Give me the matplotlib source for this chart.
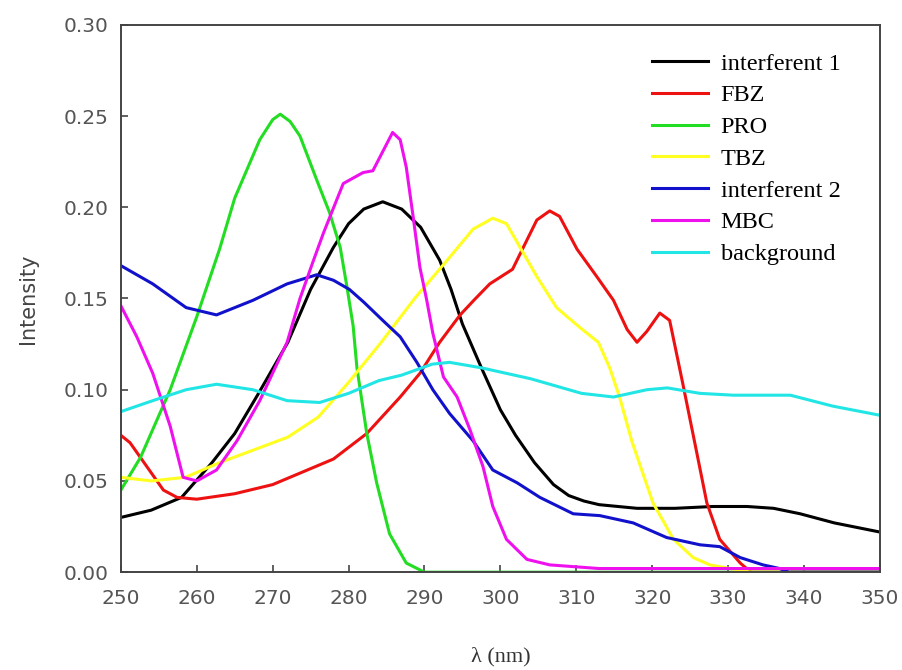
import matplotlib.pyplot as plt
import numpy as np

# values
i1_x = [250, 254, 258, 262, 265, 268, 272, 275, 278, 280, 282, 284.5, 287, 289.5, 292, 293.5, 295,
        297.5, 300, 302, 304.5, 307, 309, 311, 313, 318, 323, 328, 332.5, 336, 339.5, 344, 350]
i1_y = [0.030, 0.034, 0.041, 0.060, 0.076, 0.097, 0.126, 0.155, 0.178, 0.191, 0.199, 0.203, 0.199,
        0.189, 0.171, 0.155, 0.136, 0.112, 0.089, 0.075, 0.060, 0.048, 0.042, 0.039, 0.037, 0.035,
        0.035, 0.036, 0.036, 0.035, 0.032, 0.027, 0.022]

fbz_x = [250, 251.2, 253.4, 255.6, 257.4, 260, 265, 270, 274, 278, 282.4, 286.8, 289.4, 292, 294.7,
         296.5, 298.6, 301.6, 302.9, 304.8, 306.5, 307.8, 310.1, 312.7, 314.9, 316.7, 318, 319.3,
         321, 322.3, 324, 325.8, 327.2, 328.9, 331.6, 333, 350]
fbz_y = [0.075, 0.071, 0.058, 0.045, 0.041, 0.040, 0.043, 0.048, 0.055, 0.062, 0.076, 0.096, 0.109,
         0.126, 0.141, 0.149, 0.158, 0.166, 0.177, 0.193, 0.198, 0.195, 0.177, 0.162, 0.149, 0.133,
         0.126, 0.132, 0.142, 0.138, 0.104, 0.067, 0.038, 0.018, 0.005, 0.0, 0.0]

pro_x = [250, 252.6, 256.5, 260, 263, 265, 268.3, 270, 271, 272.3, 273.6, 275.8, 277.5, 278.9,
         279.8, 280.6, 281.1, 282.4, 283.7, 285.4, 287.6, 290, 350]
pro_y = [0.045, 0.063, 0.100, 0.140, 0.177, 0.205, 0.237, 0.248, 0.251, 0.247, 0.239, 0.215, 0.197,
         0.178, 0.156, 0.135, 0.112, 0.076, 0.049, 0.021, 0.005, 0.0, 0.0]

tbz_x = [250, 254, 258.5, 263, 267.5, 272, 276, 280, 284.3, 288.7, 293, 296.4, 299, 300.8, 302.6,
         304.8, 307.4, 310.5, 312.9, 314.4, 315.7, 317.3, 320.1, 322.8, 325.4, 327.6, 333, 350]
tbz_y = [0.052, 0.050, 0.052, 0.060, 0.067, 0.074, 0.085, 0.104, 0.126, 0.150, 0.171, 0.188, 0.194,
         0.191, 0.178, 0.162, 0.145, 0.134, 0.126, 0.112, 0.096, 0.072, 0.038, 0.018, 0.008, 0.004,
         0.0, 0.0]

i2_x = [250, 254.2, 258.6, 262.6, 267.4, 271.9, 275.8, 278, 280.1, 282, 284.5, 286.8, 289, 291.1,
        293.3, 296.4, 299, 302.2, 305.2, 309.6, 313.1, 317.5, 321.9, 326.3, 328.9, 331.6, 334.6,
        336.8, 338, 350]
i2_y = [0.168, 0.158, 0.145, 0.141, 0.149, 0.158, 0.163, 0.160, 0.155, 0.148, 0.138, 0.129, 0.115,
        0.100, 0.087, 0.072, 0.056, 0.049, 0.041, 0.032, 0.031, 0.027, 0.019, 0.015, 0.014, 0.008,
        0.004, 0.002, 0.0, 0.0]

mbc_x = [250, 252.1, 254.2, 256.5, 258.2, 260, 262.6, 265.3, 268.3, 271.9, 273.6, 275.3, 276.7,
         279.3, 281.9, 283.2, 285.8, 286.8, 287.6, 288.5, 289.4, 290.3, 291.1, 292.5, 294.3, 296,
         297.7, 299, 300.8, 303.5, 306.5, 313, 350]
mbc_y = [0.146, 0.129, 0.109, 0.080, 0.052, 0.050, 0.056, 0.072, 0.094, 0.126, 0.150, 0.170, 0.186,
         0.213, 0.219, 0.220, 0.241, 0.237, 0.222, 0.195, 0.167, 0.149, 0.131, 0.107, 0.096, 0.078,
         0.058, 0.036, 0.018, 0.007, 0.004, 0.002, 0.002]

bg_x = [250, 254.2, 258.6, 262.6, 267.4, 271.9, 276.2, 280, 284, 287, 291, 293.3, 297.5, 304, 310.7,
        314.9, 319.3, 322, 326.3, 330.7, 338.2, 343.8, 350]
bg_y = [0.088, 0.094, 0.100, 0.103, 0.100, 0.094, 0.093, 0.098, 0.105, 0.108, 0.114, 0.115, 0.112,
        0.106, 0.098, 0.096, 0.100, 0.101, 0.098, 0.097, 0.097, 0.091, 0.086]

labels = ['interferent 1', 'FBZ', 'PRO', 'TBZ', 'interferent 2', 'MBC', 'background']
colors = ['#000000', '#ee1111', '#22dd22', '#ffff22', '#1111cc', '#ee11ee', '#22e5e5']
series = [(i1_x, i1_y), (fbz_x, fbz_y), (pro_x, pro_y), (tbz_x, tbz_y),
          (i2_x, i2_y), (mbc_x, mbc_y), (bg_x, bg_y)]

fig = plt.figure(figsize=(9.02, 6.70), dpi=100)
ax = fig.add_axes([0.134, 0.146, 0.8415, 0.817])

for (x, y), lab, c in zip(series, labels, colors):
    ax.plot(x, y, color=c, lw=2.2, label=lab, solid_joinstyle='round')

ax.set_xlim(250, 350)
ax.set_ylim(0, 0.30)
ax.set_xticks(np.arange(250, 351, 10))
ax.set_yticks(np.arange(0, 0.301, 0.05))
ax.set_yticklabels(['{:.2f}'.format(v) for v in np.arange(0, 0.301, 0.05)])

for s in ax.spines.values():
    s.set_color('#444444')
    s.set_linewidth(1.4)
ax.tick_params(direction='in', length=5, width=1.2, colors='#444444',
               labelsize=14.5, labelcolor='#555555', top=False, right=False)
ax.tick_params(axis='x', pad=12)
ax.tick_params(axis='y', pad=9)

ax.set_ylabel('Intensity', fontsize=15, color='#444444', labelpad=18)
ax.set_xlabel('λ (nm)', fontsize=16, color='#333333', family='Liberation Serif', labelpad=28)

leg = ax.legend(loc='upper left', bbox_to_anchor=(0.70, 0.949), frameon=False,
                handlelength=2.3, handletextpad=0.52, labelspacing=0.4,
                borderaxespad=0, borderpad=0,
                prop={'family': 'Liberation Serif', 'size': 17.5})

fig.savefig('out.png', dpi=100)
